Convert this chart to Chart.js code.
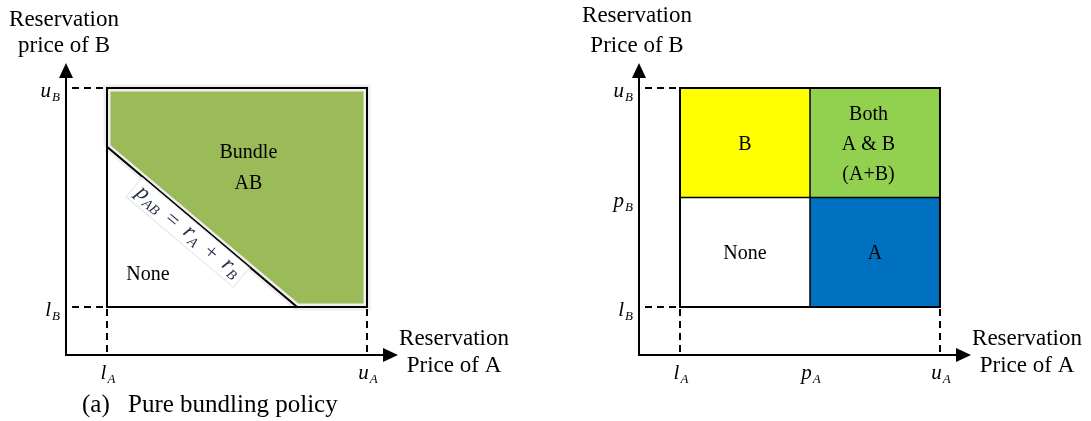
<!DOCTYPE html>
<html>
<head>
<meta charset="utf-8">
<script src="https://cdn.jsdelivr.net/npm/chart.js@4.4.1/dist/chart.umd.min.js"></script>
<style>
  html, body { margin: 0; padding: 0; background: #fff; }
  #wrap { position: relative; width: 1091px; height: 421px; }
  canvas { position: absolute; top: 0; }
</style>
</head>
<body>
<div id="wrap">
  <canvas id="bundling" width="545" height="421" style="left:0"></canvas>
  <canvas id="separate" width="546" height="421" style="left:545px"></canvas>
</div>
<script>
// reservation price range of each good (same in both panels)
var lowA = 2, highA = 10;
var lowB = 2, highB = 10;
// single prices (panel b) and bundle price (panel a)
var priceA = 6, priceB = 6;
var bundlePrice = 9.85;

// tick labels: value + [letter, subscript]
var xTickValsA = [lowA, highA];
var xTickNamesA = [['l', 'A'], ['u', 'A']];
var yTickValsA = [lowB, highB];
var yTickNamesA = [['l', 'B'], ['u', 'B']];
var xTickValsB = [lowA, priceA, highA];
var xTickNamesB = [['l', 'A'], ['p', 'A'], ['u', 'A']];
var yTickValsB = [lowB, priceB, highB];
var yTickNamesB = [['l', 'B'], ['p', 'B'], ['u', 'B']];

var serif = '"Liberation Serif", "Times New Roman", serif';

function box(x0, x1, y0, y1) {
    return [{x: x0, y: y0}, {x: x0, y: y1}, {x: x1, y: y1}, {x: x1, y: y0}, {x: x0, y: y0}];
}

function mathLabel(ctx, x, y, main, sub, align, size) {
    size = size || 21;
    var small = Math.round(size * 0.62);
    ctx.font = 'italic ' + size + 'px ' + serif;
    var w1 = ctx.measureText(main).width;
    ctx.font = 'italic ' + small + 'px ' + serif;
    var w2 = ctx.measureText(sub).width;
    var total = w1 + w2 + 1;
    var start = x;
    if (align === 'right') start = x - total;
    if (align === 'center') start = x - total / 2;
    ctx.textAlign = 'left';
    ctx.font = 'italic ' + size + 'px ' + serif;
    ctx.fillText(main, start, y);
    ctx.font = 'italic ' + small + 'px ' + serif;
    ctx.fillText(sub, start + w1 + 1, y + 4);
    return total;
}

function text(ctx, s, x, y, size, align) {
    ctx.font = size + 'px ' + serif;
    ctx.textAlign = align || 'center';
    ctx.fillText(s, x, y);
}

// axes, dashed guides, tick names, axis titles, caption
function decor(cfg) {
    return {
        id: 'decor',
        afterDatasetsDraw: function (chart) {
            var ctx = chart.ctx;
            var xs = chart.scales.x, ys = chart.scales.y;
            var left = xs.getPixelForValue(lowA), right = xs.getPixelForValue(highA);
            var top = ys.getPixelForValue(highB), bottom = ys.getPixelForValue(lowB);
            var ox = left - 41, oy = bottom + 48;
            var tipY = top - 25, tipX = right + 31;
            ctx.save();
            ctx.fillStyle = '#000';
            ctx.strokeStyle = '#000';
            ctx.textBaseline = 'alphabetic';

            // dashed guides
            ctx.lineWidth = 2;
            ctx.setLineDash([7, 5]);
            [lowB, highB].forEach(function (v) {
                var py = ys.getPixelForValue(v);
                ctx.beginPath(); ctx.moveTo(ox + 6, py); ctx.lineTo(left, py); ctx.stroke();
            });
            [lowA, highA].forEach(function (v) {
                var px = xs.getPixelForValue(v);
                ctx.beginPath(); ctx.moveTo(px, bottom + 2); ctx.lineTo(px, oy); ctx.stroke();
            });
            ctx.setLineDash([]);

            // axes with arrow heads
            ctx.lineWidth = 2;
            ctx.beginPath();
            ctx.moveTo(ox, tipY + 12); ctx.lineTo(ox, oy); ctx.lineTo(tipX - 12, oy);
            ctx.stroke();
            ctx.beginPath();
            ctx.moveTo(ox, tipY); ctx.lineTo(ox - 7, tipY + 15); ctx.lineTo(ox + 7, tipY + 15); ctx.closePath();
            ctx.fill();
            ctx.beginPath();
            ctx.moveTo(tipX, oy); ctx.lineTo(tipX - 15, oy - 7); ctx.lineTo(tipX - 15, oy + 7); ctx.closePath();
            ctx.fill();

            // tick names
            cfg.yVals.forEach(function (v, i) {
                mathLabel(ctx, ox - 6, ys.getPixelForValue(v) + 9, cfg.yNames[i][0], cfg.yNames[i][1], 'right');
            });
            cfg.xVals.forEach(function (v, i) {
                mathLabel(ctx, xs.getPixelForValue(v) + 1, oy + 24, cfg.xNames[i][0], cfg.xNames[i][1], 'center');
            });

            // axis titles
            text(ctx, 'Reservation', ox - 2, cfg.yTitleBase[0], 23);
            text(ctx, cfg.yTitle, ox - 2, cfg.yTitleBase[1], 23);
            text(ctx, 'Reservation', tipX + 56, oy - 10, 23);
            text(ctx, 'Price of A', tipX + 56, oy + 17, 23);

            // region names
            cfg.regions.forEach(function (r) {
                var px = xs.getPixelForValue(r.x), py = ys.getPixelForValue(r.y);
                var lines = r.name.split('\n');
                lines.forEach(function (s, k) {
                    text(ctx, s, px, py + 7 + (k - (lines.length - 1) / 2) * r.gap, 20);
                });
            });

            // caption
            text(ctx, cfg.tag, cfg.capX, 412, 25, 'left');
            text(ctx, cfg.caption, cfg.capX + cfg.capGap, 412, 25, 'left');

            if (cfg.formula) cfg.formula(ctx, xs, ys);
            ctx.restore();
        }
    };
}

function drawFormula(ctx, xs, ys) {
    var p0 = {x: xs.getPixelForValue(lowA), y: ys.getPixelForValue(bundlePrice - lowA)};
    var p1 = {x: xs.getPixelForValue(bundlePrice - lowB), y: ys.getPixelForValue(lowB)};
    var ang = Math.atan2(p1.y - p0.y, p1.x - p0.x);
    var t = 0.47;
    ctx.save();
    ctx.translate(p0.x + (p1.x - p0.x) * t, p0.y + (p1.y - p0.y) * t);
    ctx.rotate(ang);
    ctx.translate(0, 13);
    var parts = [['p', 'AB'], '=', ['r', 'A'], '+', ['r', 'B']];
    var gap = 10, widths = [];
    parts.forEach(function (p) {
        if (typeof p === 'string') {
            ctx.font = '22px ' + serif;
            widths.push(ctx.measureText(p).width);
        } else {
            ctx.font = 'italic 22px ' + serif;
            var a = ctx.measureText(p[0]).width;
            ctx.font = 'italic 14px ' + serif;
            widths.push(a + ctx.measureText(p[1]).width + 1);
        }
    });
    var total = widths.reduce(function (s, w) { return s + w; }, 0) + gap * (parts.length - 1);
    ctx.fillStyle = '#fff';
    ctx.fillRect(-total / 2 - 5, -12, total + 10, 25);
    ctx.strokeStyle = '#e4e4e4';
    ctx.lineWidth = 1;
    ctx.strokeRect(-total / 2 - 5, -12, total + 10, 25);
    ctx.fillStyle = '#26324e';
    var x = -total / 2;
    parts.forEach(function (p, i) {
        if (typeof p === 'string') {
            text(ctx, p, x + widths[i] / 2, 7, 22);
        } else {
            mathLabel(ctx, x, 5, p[0], p[1], 'left', 22);
        }
        x += widths[i] + gap;
    });
    ctx.restore();
}

function options(pad) {
    return {
        responsive: false,
        animation: false,
        events: [],
        layout: { padding: pad },
        plugins: { legend: { display: false }, tooltip: { enabled: false } },
        scales: {
            x: { type: 'linear', display: false, min: lowA, max: highA },
            y: { type: 'linear', display: false, min: lowB, max: highB }
        },
        elements: { point: { radius: 0 }, line: { tension: 0 } }
    };
}

window.addEventListener('load', function () {
    var bundling = document.getElementById('bundling').getContext('2d');
    var separate = document.getElementById('separate').getContext('2d');

    new Chart(bundling, {
        type: 'scatter',
        data: {
            datasets: [
                {
                    data: box(lowA, highA, lowB, highB),
                    showLine: true, borderColor: '#000', borderWidth: 2,
                    borderCapStyle: 'square', fill: false, clip: false
                },
                {
                    data: [{x: lowA, y: bundlePrice - lowA}, {x: bundlePrice - lowB, y: lowB}],
                    showLine: true, borderColor: '#000', borderWidth: 2, fill: false, clip: false
                },
                {
                    data: [
                        {x: lowA, y: bundlePrice - lowA}, {x: lowA, y: highB}, {x: highA, y: highB},
                        {x: highA, y: lowB}, {x: bundlePrice - lowB, y: lowB}, {x: lowA, y: bundlePrice - lowA}
                    ],
                    showLine: true, borderColor: '#eeeeee', borderWidth: 7,
                    backgroundColor: '#9bbb59', fill: 'shape', clip: false
                }
            ]
        },
        options: options({ left: 107, right: 178, top: 88, bottom: 114 }),
        plugins: [decor({
            xVals: xTickValsA, xNames: xTickNamesA,
            yVals: yTickValsA, yNames: yTickNamesA,
            yTitle: 'price of B', yTitleBase: [26, 52],
            regions: [
                { name: 'Bundle\nAB', x: 6.35, y: 7.15, gap: 31 },
                { name: 'None', x: 3.26, y: 3.25, gap: 0 }
            ],
            tag: '(a)', caption: 'Pure bundling policy', capX: 82, capGap: 46,
            formula: drawFormula
        })]
    });

    new Chart(separate, {
        type: 'scatter',
        data: {
            datasets: [
                {
                    data: box(lowA, highA, lowB, highB),
                    showLine: true, borderColor: '#000', borderWidth: 2,
                    borderCapStyle: 'square', fill: false, clip: false
                },
                {
                    data: [{x: priceA, y: lowB}, {x: priceA, y: highB}],
                    showLine: true, borderColor: '#000', borderWidth: 1.5, fill: false, clip: false
                },
                {
                    data: [{x: lowA, y: priceB}, {x: highA, y: priceB}],
                    showLine: true, borderColor: '#000', borderWidth: 1.5, fill: false, clip: false
                },
                {
                    data: [{x: lowA, y: highB}, {x: priceA, y: highB}],
                    showLine: true, borderWidth: 0, backgroundColor: '#ffff00', fill: { value: priceB }
                },
                {
                    data: [{x: priceA, y: highB}, {x: highA, y: highB}],
                    showLine: true, borderWidth: 0, backgroundColor: '#92d050', fill: { value: priceB }
                },
                {
                    data: [{x: priceA, y: priceB}, {x: highA, y: priceB}],
                    showLine: true, borderWidth: 0, backgroundColor: '#0070c0', fill: { value: lowB }
                }
            ]
        },
        options: options({ left: 135, right: 151, top: 88, bottom: 114 }),
        plugins: [decor({
            xVals: xTickValsB, xNames: xTickNamesB,
            yVals: yTickValsB, yNames: yTickNamesB,
            yTitle: 'Price of B', yTitleBase: [22, 52],
            regions: [
                { name: 'B', x: (lowA + priceA) / 2, y: (priceB + highB) / 2, gap: 0 },
                { name: 'Both\nA & B\n(A+B)', x: 7.8, y: (priceB + highB) / 2, gap: 30 },
                { name: 'None', x: (lowA + priceA) / 2, y: (lowB + priceB) / 2, gap: 0 },
                { name: 'A', x: (priceA + highA) / 2, y: (lowB + priceB) / 2, gap: 0 }
            ],
            tag: '(b)', caption: 'No-bundling policy', capX: 675, capGap: 43
        })]
    });
});
</script>
</body>
</html>
